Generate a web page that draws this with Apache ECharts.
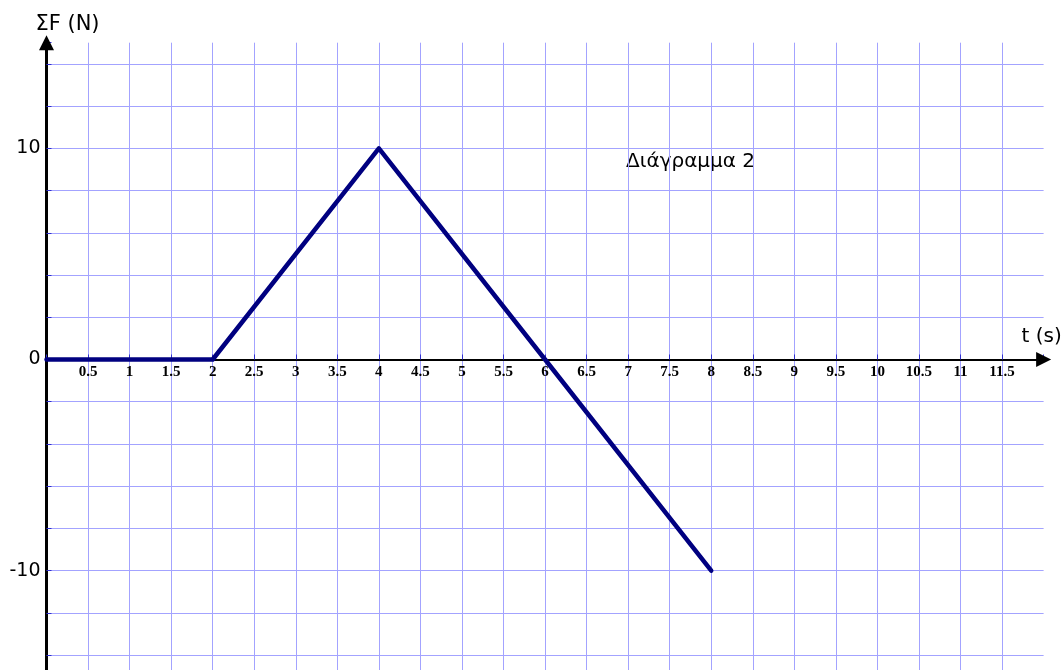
<!DOCTYPE html>
<html>
<head>
<meta charset="utf-8">
<script src="https://cdn.jsdelivr.net/npm/echarts@6/dist/echarts.min.js"></script>
<style>
  html, body { margin: 0; padding: 0; background: #fff; }
  #chart { width: 1064px; height: 670px; }
</style>
</head>
<body>
<div id="chart"></div>
<script>
// data
const timeValues = [0, 2, 4, 6, 8]
const forceValues = [0, 0, 10, 0, -10]
const yLabelValues = [-10, 0, 10]
const diagramTitle = 'Διάγραμμα 2'

const yMin = -16
const yMax = 15
const gridTop = 42.7
const gridBottomY = 697.4   // pixel row of yMin, below the visible area
const gridColor = '#a3a3ff'

// x axis sits on F = 0, so it is shifted up from the grid bottom
const zeroY = gridTop + (gridBottomY - gridTop) * yMax / (yMax - yMin)

const chart = echarts.init(document.getElementById('chart'))

const option = {
  backgroundColor: '#fff',
  animation: false,
  grid: {
    left: 46.5,
    right: 20.4,
    top: gridTop,
    bottom: 670 - gridBottomY,
    containLabel: false,
    outerBoundsMode: 'none'
  },
  xAxis: {
    type: 'value',
    min: 0,
    max: 12,
    interval: 0.5,
    position: 'bottom',
    offset: -(gridBottomY - zeroY),
    name: 't (s)',
    nameLocation: 'end',
    nameGap: -2,
    nameTextStyle: {
      fontFamily: 'DejaVu Sans',
      fontSize: 20,
      color: '#000',
      align: 'center',
      verticalAlign: 'bottom',
      padding: [0, 0, 13, 0]
    },
    axisLine: {
      onZero: false,
      symbol: ['none', 'triangle'],
      symbolSize: [15, 15],
      lineStyle: { color: '#000', width: 2 }
    },
    axisTick: { show: true, inside: true, length: 5, lineStyle: { color: '#3030d0' } },
    axisLabel: {
      margin: 5,
      fontFamily: 'Liberation Serif',
      fontWeight: 'bold',
      fontSize: 15,
      color: '#000',
      formatter: v => (v === 0 || v === 12) ? '' : String(v)
    },
    splitLine: {
      show: true,
      showMinLine: false,
      showMaxLine: false,
      lineStyle: { color: gridColor, width: 1 }
    }
  },
  yAxis: {
    type: 'value',
    min: yMin,
    max: yMax,
    interval: 2,
    name: 'ΣF (N)',
    nameLocation: 'end',
    nameGap: 8,
    nameTextStyle: {
      fontFamily: 'DejaVu Sans',
      fontSize: 21,
      color: '#000',
      align: 'center',
      padding: [0, 0, 0, 42]
    },
    axisLine: {
      onZero: false,
      symbol: ['none', 'triangle'],
      symbolSize: [15, 15],
      lineStyle: { color: '#000', width: 3 }
    },
    axisTick: { show: true, inside: true, length: 5, lineStyle: { color: '#3030d0' } },
    axisLabel: {
      margin: 6,
      fontFamily: 'DejaVu Sans',
      fontSize: 19,
      color: '#000',
      formatter: v => yLabelValues.includes(v) ? String(v) : ''
    },
    splitLine: {
      show: true,
      showMinLine: false,
      showMaxLine: false,
      lineStyle: { color: gridColor, width: 1 }
    }
  },
  graphic: [
    {
      type: 'text',
      left: 626,
      top: 152,
      style: {
        text: diagramTitle,
        fontFamily: 'DejaVu Sans',
        fontSize: 20,
        fill: '#000'
      }
    }
  ],
  series: [
    {
      type: 'line',
      data: timeValues.map((t, i) => [t, forceValues[i]]),
      symbol: 'none',
      lineStyle: { color: '#000080', width: 4.5, cap: 'round', join: 'round' },
      z: 5
    }
  ]
}

chart.setOption(option)
</script>
</body>
</html>
